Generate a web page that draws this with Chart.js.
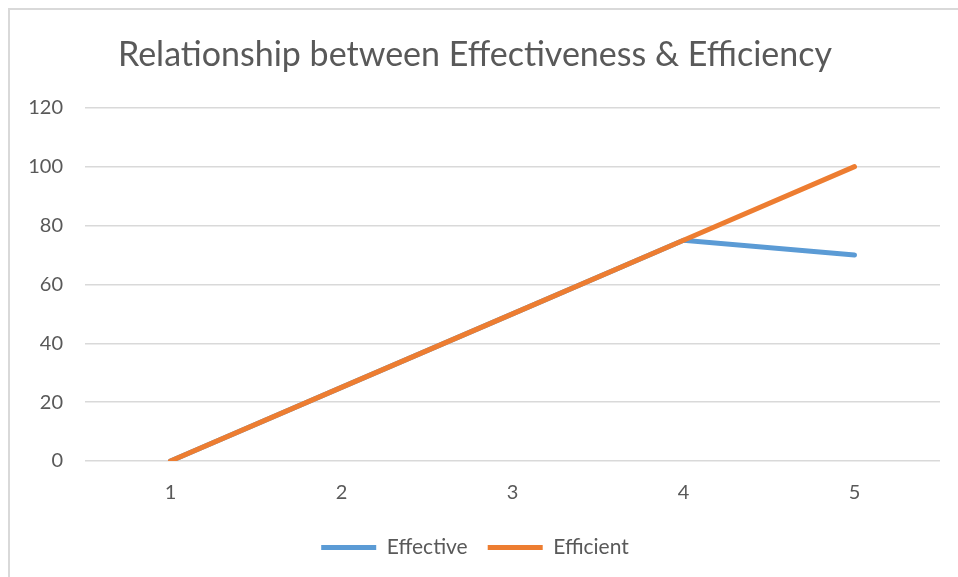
<!DOCTYPE html>
<html>
<head>
<meta charset="utf-8">
<script src="https://cdn.jsdelivr.net/npm/chart.js@4.4.1/dist/chart.umd.min.js"></script>
<style>
    html, body { margin: 0; padding: 0; background: #fff; }
    #frame {
        position: absolute; left: 8px; top: 8px; width: 980px; height: 600px;
        border-left: 2px solid #d9d9d9; border-top: 2px solid #d9d9d9;
    }
    #wrap { position: absolute; left: 0; top: 0; width: 958px; height: 577px; }
</style>
</head>
<body>
<div id="frame"></div>
<div id="wrap"><canvas id="chart-main"></canvas></div>
<script>
// chart data
const categories = ['1', '2', '3', '4', '5'];
const effective = [0, 25, 50, 75, 70];
const efficient = [0, 25, 50, 75, 100];

Chart.defaults.font.family = "Lato, 'Open Sans', sans-serif";
Chart.defaults.color = '#595959';

const ctx = document.getElementById('chart-main');

new Chart(ctx, {
    type: 'line',
    data: {
        labels: categories,
        datasets: [{
            label: 'Effective',
            data: effective,
            borderColor: '#5b9bd5',
            backgroundColor: '#5b9bd5',
            borderWidth: 5,
            borderCapStyle: 'round',
            pointRadius: 0,
            tension: 0,
            order: 2
        }, {
            label: 'Efficient',
            data: efficient,
            borderColor: '#ed7d31',
            backgroundColor: '#ed7d31',
            borderWidth: 5,
            borderCapStyle: 'round',
            pointRadius: 0,
            tension: 0,
            order: 1 // orange drawn on top
        }]
    },
    options: {
        responsive: true,
        maintainAspectRatio: false,
        animation: false,
        layout: { padding: { left: 10, right: 18, top: 10, bottom: 9 } },
        plugins: {
            title: {
                display: true,
                text: 'Relationship between Effectiveness & Efficiency',
                font: { size: 34, weight: 'normal' },
                color: '#595959',
                padding: { top: 25, bottom: 32 }
            },
            legend: {
                position: 'bottom',
                labels: {
                    usePointStyle: true,
                    pointStyle: 'line',
                    pointStyleWidth: 55,
                    font: { size: 21 },
                    padding: 20,
                    sort: (a, b) => a.datasetIndex - b.datasetIndex
                }
            },
            tooltip: { enabled: false }
        },
        scales: {
            x: {
                offset: true,
                grid: { display: false },
                border: { display: false },
                ticks: { font: { size: 20 }, padding: 12 }
            },
            y: {
                min: 0,
                max: 120,
                ticks: { stepSize: 20, font: { size: 20 }, padding: 22 },
                grid: { color: '#d9d9d9', lineWidth: 1.5, drawTicks: false },
                border: { display: false },
                afterFit: (scale) => { scale.width = 75; }
            }
        }
    }
});
</script>
</body>
</html>
